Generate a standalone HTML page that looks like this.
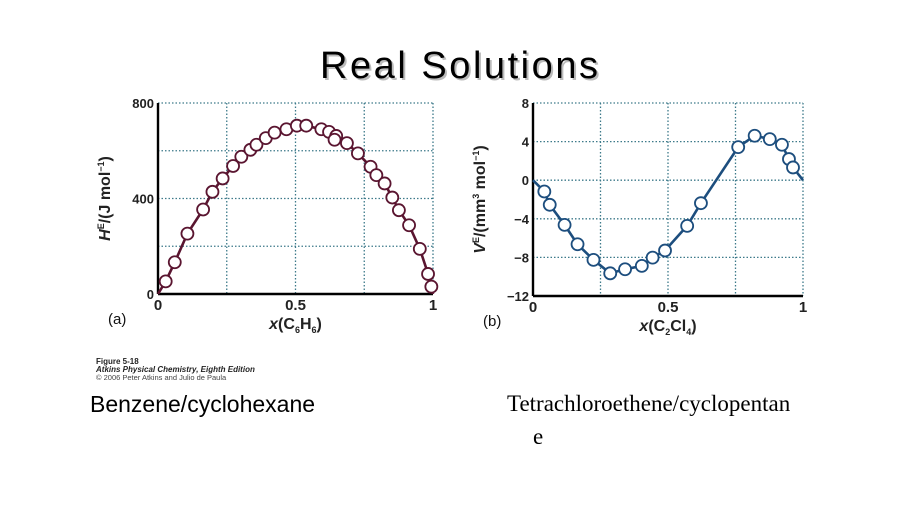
<!DOCTYPE html>
<html><head><meta charset="utf-8"><style>
html,body{margin:0;padding:0;background:#fff;}
svg{display:block;font-family:"Liberation Sans",sans-serif;}
</style></head><body>
<svg width="922" height="518" viewBox="0 0 922 518">
<text x="322" y="80" font-size="38" fill="#bbb" textLength="278">Real Solutions</text>
<text x="320" y="78" font-size="38" fill="#000" textLength="278">Real Solutions</text>
<g id="chartA"></g>
<g id="chartB"></g>
<text x="96" y="364" font-size="8" font-weight="bold" fill="#222">Figure 5-18</text>
<text x="96" y="372" font-size="8" font-weight="bold" font-style="italic" fill="#222">Atkins Physical Chemistry, Eighth Edition</text>
<text x="96" y="380" font-size="7.5" fill="#444">© 2006 Peter Atkins and Julio de Paula</text>
<text x="90" y="412" font-size="23" fill="#000">Benzene/cyclohexane</text>
<text x="507" y="411" font-size="23" font-family="Liberation Serif, serif" fill="#000">Tetrachloroethene/cyclopentan</text>
<text x="533" y="444" font-size="23" font-family="Liberation Serif, serif" fill="#000">e</text>
</svg>
<script>
const aX = [0.028,0.061,0.107,0.164,0.198,0.235,0.273,0.303,0.336,0.358,0.392,0.424,0.467,0.505,0.539,0.594,0.622,0.648,0.642,0.687,0.727,0.773,0.794,0.824,0.852,0.876,0.913,0.952,0.982,0.994];
const aY = [53,133,253,354,428,484,536,575,604,625,653,676,690,705,705,690,679,662,646,632,589,533,498,463,404,351,288,189,84,31];
const aYTicks = [0,400,800];
const aXTicks = ["0","0.5","1"];
const bX = [0.042,0.062,0.117,0.165,0.224,0.286,0.341,0.403,0.443,0.489,0.571,0.622,0.760,0.821,0.877,0.922,0.948,0.963];
const bY = [-1.17,-2.55,-4.63,-6.64,-8.26,-9.65,-9.23,-8.88,-8.02,-7.29,-4.73,-2.38,3.43,4.61,4.26,3.67,2.19,1.32];
const bYTicks = [8,4,0,-4,-8,-12];
const bXTicks = ["0","0.5","1"];
const NS="http://www.w3.org/2000/svg";
function mk(parent,tag,attrs,txt){const e=document.createElementNS(NS,tag);for(const k in attrs)e.setAttribute(k,attrs[k]);if(txt!==undefined)e.textContent=txt;parent.appendChild(e);return e;}

function chart(g,o){
  const sx=v=>o.x0+(o.x1-o.x0)*v;
  const sy=v=>o.y0+(o.y1-o.y0)*(v-o.ymin)/(o.ymax-o.ymin);
  for(const gv of o.gridX){const l=mk(g,'line',{x1:sx(gv),x2:sx(gv),y1:o.y1,y2:o.y0,stroke:'#3d7a8a','stroke-width':1.3,'stroke-dasharray':'1.5,2'});
    
    }
  for(const gv of o.gridY){const l=mk(g,'line',{x1:o.x0,x2:o.x1,y1:sy(gv),y2:sy(gv),stroke:'#3d7a8a','stroke-width':1.3,'stroke-dasharray':'1.5,2'});
    
    }
  const ya=mk(g,'line',{x1:o.x0,x2:o.x0,y1:o.y1,y2:o.y0,stroke:'#000','stroke-width':2.4});
  
  
  const xa=mk(g,'line',{x1:o.x0,x2:o.x1,y1:o.y0,y2:o.y0,stroke:'#000','stroke-width':2.4});
  
  
  for(const t of o.yTicks){const tx=mk(g,'text',{x:o.x0-4,y:sy(t)+5,'font-size':13,'font-weight':'bold','text-anchor':'end',fill:'#222'},(t<0?'\u2212'+(-t):String(t)));
    
    }
  o.xTicks.forEach((t,i)=>{const tx=mk(g,'text',{x:sx(i/2),y:o.y0+16,'font-size':15,'font-weight':'bold','text-anchor':'middle',fill:'#222'},t);
    
    });
  const pts=[[0,o.start]].concat(o.xs.map((x,i)=>[x,o.ys[i]]).sort((a,b)=>a[0]-b[0])).concat([[1,o.end]]);
  let d='M'+sx(pts[0][0])+','+sy(pts[0][1]);
  for(let i=1;i<pts.length;i++){d+=' L'+sx(pts[i][0]).toFixed(1)+','+sy(pts[i][1]).toFixed(1);}
  const p=mk(g,'path',{d:d,fill:'none',stroke:o.color,'stroke-width':2.6,'stroke-linejoin':'round'});
  
  
  o.xs.forEach((x,i)=>{const c=mk(g,'circle',{cx:sx(x),cy:sy(o.ys[i]),r:6,fill:'#fff',stroke:o.color,'stroke-width':1.8});
    
    });
  const pl=mk(g,'text',{x:o.x0-50,y:o.y0+30,'font-size':15,fill:'#111'},o.panel);
  
  
  const xl=mk(g,'text',{x:(o.x0+o.x1)/2,y:o.y0+35,'font-size':16,'font-weight':'bold','text-anchor':'middle',fill:'#222'});
  
  
  xl.innerHTML=o.xlabel;
  const yl=mk(g,'text',{x:0,y:0,'font-size':16,'font-weight':'bold','text-anchor':'middle',fill:'#222',transform:'translate('+(o.x0-48)+','+((o.y0+o.y1)/2)+') rotate(-90)'});
  
  
  yl.innerHTML=o.ylabel;
}
chart(document.getElementById('chartA'),{x0:158,x1:433,y0:294,y1:103,ymin:0,ymax:800,gridX:[0.25,0.5,0.75,1],gridY:[200,400,600,800],
  yTicks:aYTicks,xTicks:aXTicks,xs:aX,ys:aY,start:0,end:0,color:'#5a1530',panel:'(a)',
  xlabel:'<tspan font-style="italic">x</tspan>(C<tspan font-size="9" dy="4">6</tspan><tspan dy="-4">H</tspan><tspan font-size="9" dy="4">6</tspan><tspan dy="-4">)</tspan>',
  ylabel:'<tspan font-style="italic">H</tspan><tspan font-size="9" dy="-6">E</tspan><tspan dy="6">/(J mol</tspan><tspan font-size="9" dy="-6">−1</tspan><tspan dy="6">)</tspan>'});
chart(document.getElementById('chartB'),{x0:533,x1:803,y0:296,y1:103,ymin:-12,ymax:8,gridX:[0.25,0.5,0.75,1],gridY:[-8,-4,0,4,8],
  yTicks:bYTicks,xTicks:bXTicks,xs:bX,ys:bY,start:0,end:0,color:'#1d4e7e',panel:'(b)',
  xlabel:'<tspan font-style="italic">x</tspan>(C<tspan font-size="9" dy="4">2</tspan><tspan dy="-4">Cl</tspan><tspan font-size="9" dy="4">4</tspan><tspan dy="-4">)</tspan>',
  ylabel:'<tspan font-style="italic">V</tspan><tspan font-size="9" dy="-6">E</tspan><tspan dy="6">/(mm</tspan><tspan font-size="9" dy="-6">3</tspan><tspan dy="6"> mol</tspan><tspan font-size="9" dy="-6">−1</tspan><tspan dy="6">)</tspan>'});
</script>
</body></html>
